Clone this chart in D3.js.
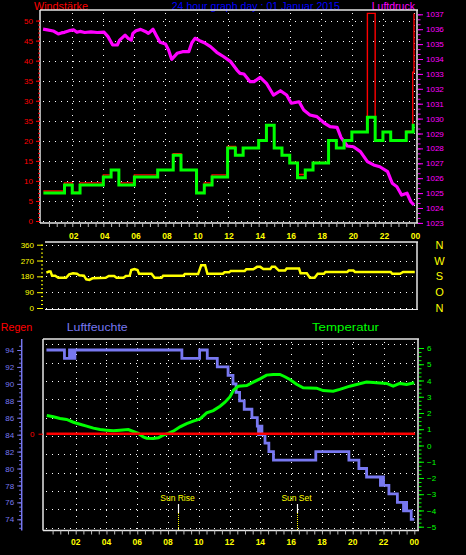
<!DOCTYPE html>
<html><head><meta charset="utf-8">
<script src="https://cdn.jsdelivr.net/npm/d3@7"></script>
<style>body{margin:0;background:#000;} svg{display:block;}</style>
</head><body>
<svg id="c" width="466" height="555"></svg>
<script>
// ---------- DATA ----------
const hourTickValues = [2,4,6,8,10,12,14,16,18,20,22,24];
const hourTickLabels = ["02","04","06","08","10","12","14","16","18","20","22","00"];

const windTickValues = [0,5,10,15,20,25,30,35,40,45,50];
const windTickLabels = ["0","5","10","15","20","35","30","35","40","45","50"];
const pressTickValues = [1023,1024,1025,1026,1027,1028,1029,1030,1031,1032,1033,1034,1035,1036,1037];
const dirTickValues = [0,90,180,270,360];
const dirLetters = ["N","O","S","W","N"];
const humTickValues = [74,76,78,80,82,84,86,88,90,92,94];
const tempTickValues = [-5,-4,-3,-2,-1,0,1,2,3,4,5,6];
const rainTickValues = [0];

// wind gusts (green, step) km/h
const gustHours = [0.14,1.5,2.0,2.5,4.0,4.5,5.0,6.0,7.5,8.5,9.0,10.0,10.5,11.0,12.0,12.5,13.0,14.0,14.5,15.0,15.5,16.0,16.5,17.0,17.5,18.5,19.0,19.5,20.0,21.0,21.5,22.0,22.5,23.5,23.95,24.05];
const gustValues = [7,9,7,9,11,12.7,9,11,12.7,16.4,12.7,7,9,11,18.2,16.4,18.2,20.1,23.9,18.2,16.4,14.5,10.8,12.7,14.5,20.1,18.2,20.1,22.2,25.9,20.1,22.2,20.1,22.2,23.9,23.9];
// wind speed (red, step)
const meanHours = [0.14,1.5,2.0,2.5,4.0,4.5,5.0,6.0,7.5,8.5,9.0,10.0,10.5,11.0,12.0,12.5,13.0,14.0,14.5,15.0,15.5,16.0,16.5,17.0,17.5,18.5,19.0,19.5,20.0,21.0,21.5,22.0,22.5,23.5,23.92,24.0];
const meanValues = [7.5,9.5,7.2,9.5,11.5,12.8,9.5,11.5,12.8,16.8,12.8,7.1,9.5,11.5,18.6,16.5,18.3,20.2,24.0,18.3,16.5,14.6,11.6,12.8,14.6,20.2,18.3,20.2,22.3,51.8,20.2,22.3,20.3,22.4,37.1,51.8];

// pressure hPa
const pressHours = [0.12,0.4,0.77,1.1,1.3,1.5,1.8,2.1,2.3,2.5,2.8,3.2,3.6,4.05,4.3,4.6,4.9,5.05,5.4,5.6,5.8,5.9,6.1,6.4,6.7,6.9,7.2,7.4,7.65,8.0,8.2,8.4,8.75,9.1,9.5,9.7,9.9,10.2,10.5,10.9,11.3,11.75,12.2,12.6,12.8,13.05,13.45,13.7,14.1,14.5,14.95,15.4,15.8,16.1,16.6,16.9,17.3,17.75,18.2,18.6,19.05,19.3,19.7,20.1,20.55,21.0,21.4,21.8,22.3,22.6,22.9,23.2,23.55,23.8,24.0];
const pressValues = [1036.0,1035.95,1035.88,1035.68,1035.75,1035.79,1035.9,1035.95,1035.8,1035.85,1035.78,1035.82,1035.78,1035.8,1035.5,1034.94,1034.94,1035.27,1035.6,1035.39,1035.27,1035.72,1035.9,1035.99,1035.85,1035.72,1036.0,1035.6,1035.12,1035.0,1034.6,1033.98,1034.38,1034.49,1034.49,1035.09,1035.39,1035.23,1035.09,1034.83,1034.45,1034.15,1033.82,1033.26,1033.04,1032.99,1032.48,1032.48,1032.77,1032.37,1031.58,1031.87,1031.58,1031.03,1031.13,1030.58,1030.24,1030.13,1029.72,1029.46,1029.41,1028.74,1028.16,1028.11,1027.78,1027.11,1026.89,1026.77,1026.44,1025.66,1025.43,1024.87,1024.99,1024.42,1024.2];

// wind direction degrees
const dirHours = [0.33,0.5,0.6,0.7,0.9,1.1,1.6,1.8,2.05,2.3,2.45,2.75,2.9,3.1,3.3,4.15,4.35,4.7,4.85,5.3,5.45,5.7,5.8,6.0,6.2,6.3,7.1,7.3,7.75,7.85,9.15,9.25,10.1,10.3,10.55,10.7,11.7,11.8,12.1,12.2,13.1,13.2,13.65,13.9,14.1,14.3,14.75,14.85,15.05,15.3,15.7,15.8,16.6,16.7,17.1,17.3,17.6,17.8,18.2,18.3,19.7,19.8,20.1,20.2,22.5,22.6,23.1,23.3,24.05];
const dirValues = [201,207,207,184,184,172,172,191,197,195,186,184,163,160,169,172,182,182,172,172,182,184,216,222,216,195,195,172,172,184,184,193,193,243,243,195,195,203,203,211,211,220,220,234,234,222,222,234,234,213,213,224,224,197,197,172,172,195,195,205,205,213,213,205,205,195,195,205,205];

// humidity % (step)
const humHours = [0.1,1.27,1.6,1.66,1.72,1.78,1.84,1.9,1.95,8.9,10.05,10.55,11.2,11.9,12.22,12.42,12.65,12.95,13.45,13.8,13.88,13.93,13.98,14.03,14.1,14.3,14.55,14.85,17.6,19.75,20.4,20.9,21.8,21.85,21.9,21.95,22.0,22.35,22.9,23.3,23.35,23.4,23.45,23.5,23.8,24.0];
const humValues = [94,93,94,93,94,93,94,93,94,93,94,93,92,91,90,89,88,87,86,85,84,85,84,85,84,83,82,81,82,81,80,79,78,79,78,79,78,77,76,75,76,75,76,75,74,74];

// temperature °C
const tempHours = [0.12,0.55,0.98,1.41,1.85,2.28,2.71,3.15,3.58,4.01,4.45,4.88,5.42,5.74,6.07,6.39,6.61,7.04,7.37,7.69,8.02,8.34,8.78,9.21,9.64,10.08,10.51,10.94,11.38,11.7,12.03,12.25,12.57,13.11,13.54,13.97,14.4,14.84,15.27,15.59,15.92,16.35,16.78,17.65,18.08,18.73,19.16,19.81,20.25,20.9,21.55,22.2,22.63,23.06,23.5,24.0];
const tempValues = [1.85,1.77,1.66,1.6,1.43,1.31,1.19,1.07,0.98,0.94,0.9,0.94,0.98,0.86,0.74,0.53,0.45,0.43,0.47,0.64,0.74,0.88,1.15,1.35,1.5,1.64,2.01,2.15,2.42,2.66,3.0,3.4,3.65,3.69,3.9,4.1,4.33,4.37,4.37,4.23,4.06,3.77,3.55,3.53,3.38,3.34,3.45,3.65,3.75,3.9,3.86,3.82,3.65,3.82,3.75,3.86];

// rain mm
const rainHours = [0.1,24.05];
const rainValues = [0,0];

const sunHours = [8.63,16.38];
const sunLabels = ["Sun Rise","Sun Set"];

// ---------- DRAW ----------
const svg = d3.select("#c");
svg.append("rect").attr("width",466).attr("height",555).attr("fill","#000");
const FONT = "'Liberation Sans', Arial, sans-serif";
const BORDER = "#e6e6e6";

function hline(g,x1,x2,y,color,w,dash){const l=g.append("line").attr("x1",x1).attr("x2",x2).attr("y1",y).attr("y2",y).attr("stroke",color).attr("stroke-width",w);if(dash)l.attr("stroke-dasharray",dash);return l;}
function vline(g,x,y1,y2,color,w,dash){const l=g.append("line").attr("x1",x).attr("x2",x).attr("y1",y1).attr("y2",y2).attr("stroke",color).attr("stroke-width",w);if(dash)l.attr("stroke-dasharray",dash);return l;}
function styleAxis(g,color,size){
  g.select(".domain").remove();
  g.selectAll(".tick line").attr("stroke",color).attr("stroke-width",1);
  g.selectAll(".tick text").attr("fill",color).attr("font-family",FONT).attr("font-size",size);
}

// ===== TOP CHART =====
const T = {l:40, r:417, t:10, b:223};
const xTop = d3.scaleLinear().domain([0,24]).range([41.2,414]);
const yWind = d3.scaleLinear().domain([0,50]).range([221,20.6]);
const yPress = d3.scaleLinear().domain([1023,1037]).range([222.9,14.3]);

const gTop = svg.append("g");
// titles
gTop.append("text").attr("x",34).attr("y",9.5).attr("fill","#ff0000").attr("font-family",FONT).attr("font-size",10.5).attr("textLength",54).attr("lengthAdjust","spacingAndGlyphs").text("Windstärke");
gTop.append("text").attr("x",171.7).attr("y",9.5).attr("fill","#0000ff").attr("font-family",FONT).attr("font-size",10.5).attr("textLength",168.3).attr("lengthAdjust","spacingAndGlyphs").text("24 hour graph day : 01 Januar 2015");
gTop.append("text").attr("x",371.7).attr("y",9.5).attr("fill","#ff00ff").attr("font-family",FONT).attr("font-size",10.5).attr("textLength",43.3).attr("lengthAdjust","spacingAndGlyphs").text("Luftdruck");

// grid
windTickValues.forEach(v=>hline(gTop,T.l+3,T.r-2,Math.round(yWind(v))+0.5,"#fff",1,"1,5"));
hourTickValues.forEach(h=>vline(gTop,Math.round(xTop(h))+0.5,T.t+3,T.b-1,"#fff",1,"1,5"));

// clip
svg.append("clipPath").attr("id","clipTop").append("rect").attr("x",T.l).attr("y",T.t+1).attr("width",T.r-T.l).attr("height",T.b-T.t-1);
const gTopData = gTop.append("g").attr("clip-path","url(#clipTop)");

gTopData.append("path").datum(pressHours.map((h,i)=>[h,pressValues[i]]))
  .attr("d",d3.line().x(d=>xTop(d[0])).y(d=>yPress(d[1])))
  .attr("fill","none").attr("stroke","#ff00ff").attr("stroke-width",3.2).attr("stroke-linejoin","round");
gTopData.append("path").datum(meanHours.map((h,i)=>[h,meanValues[i]]))
  .attr("d",d3.line().curve(d3.curveStepAfter).x(d=>xTop(d[0])).y(d=>yWind(d[1])))
  .attr("fill","none").attr("stroke","#ff0000").attr("stroke-width",1.4);
gTopData.append("path").datum(gustHours.map((h,i)=>[h,gustValues[i]]))
  .attr("d",d3.line().curve(d3.curveStepAfter).x(d=>xTop(d[0])).y(d=>yWind(d[1])))
  .attr("fill","none").attr("stroke","#00ff00").attr("stroke-width",3);

// borders
hline(gTop,T.l,T.r+1,T.t,BORDER,1.5);
hline(gTop,T.l,T.r+1,T.b,BORDER,1.5);
vline(gTop,T.l,T.t,T.b,BORDER,1.5);
vline(gTop,T.r,T.t,T.b,BORDER,1.5);

// left wind axis
const aw = gTop.append("g").attr("transform",`translate(${T.l},0)`)
  .call(d3.axisLeft(yWind).tickValues(windTickValues).tickFormat((d,i)=>windTickLabels[i]).tickSize(4).tickPadding(3));
styleAxis(aw,"#ff0000",8);
const awm = gTop.append("g").attr("transform",`translate(${T.l},0)`)
  .call(d3.axisLeft(yWind).tickValues(d3.range(0,51,1)).tickFormat("").tickSize(2));
styleAxis(awm,"#ff0000",8);

// right pressure axis
const ap = gTop.append("g").attr("transform",`translate(${T.r+1},0)`)
  .call(d3.axisRight(yPress).tickValues(pressTickValues).tickFormat(d3.format("d")).tickSize(5).tickPadding(3));
styleAxis(ap,"#ff00ff",8);
const apm = gTop.append("g").attr("transform",`translate(${T.r+1},0)`)
  .call(d3.axisRight(yPress).tickValues(d3.range(0,43).map(i=>1023+i/3)).tickFormat("").tickSize(2.5));
styleAxis(apm,"#ff00ff",8);

// bottom x ticks
const axt = gTop.append("g").attr("transform",`translate(0,${T.b})`)
  .call(d3.axisBottom(xTop).tickValues(d3.range(1,49).map(i=>i/2)).tickFormat("").tickSize(4));
styleAxis(axt,"#bbbbbb",8);
// hour labels (yellow) between top and middle chart
gTop.selectAll(".hl").data(hourTickValues).enter().append("text")
  .attr("x",d=>xTop(d)+1.5).attr("y",238.5).attr("text-anchor","middle")
  .attr("fill","#ffff00").attr("font-family",FONT).attr("font-size",8.5).attr("font-weight","bold")
  .text((d,i)=>hourTickLabels[i]);

// ===== MIDDLE CHART =====
const M = {l:43, r:417, t:242, b:309.5};
const yDir = d3.scaleLinear().domain([0,360]).range([308,244.7]);
const gMid = svg.append("g");
dirTickValues.forEach(v=>hline(gMid,M.l+3,M.r-2,Math.round(yDir(v))+0.5,"#fff",1,"1,5"));
gMid.append("path").datum(dirHours.map((h,i)=>[h,dirValues[i]]))
  .attr("d",d3.line().x(d=>xTop(d[0])).y(d=>yDir(d[1])))
  .attr("fill","none").attr("stroke","#ffff00").attr("stroke-width",2.5);
hline(gMid,M.l+2,M.r+1,M.t,BORDER,1.5);
hline(gMid,M.l+2,M.r+1,M.b,BORDER,1.2);
vline(gMid,M.r,M.t,M.b,BORDER,1.5);
const ad = gMid.append("g").attr("transform",`translate(${M.l},0)`)
  .call(d3.axisLeft(yDir).tickValues(dirTickValues).tickSize(6).tickPadding(3));
styleAxis(ad,"#ffff00",8);
const adm = gMid.append("g").attr("transform",`translate(${M.l},0)`)
  .call(d3.axisLeft(yDir).tickValues(d3.range(0,17).map(i=>i*22.5)).tickFormat("").tickSize(2));
styleAxis(adm,"#ffff00",8);
gMid.selectAll(".dl").data(dirTickValues).enter().append("text")
  .attr("x",439.5).attr("y",d=>yDir(d)+4).attr("text-anchor","middle")
  .attr("fill","#ffff00").attr("font-family",FONT).attr("font-size",11)
  .text((d,i)=>dirLetters[i]);

// ===== BOTTOM CHART =====
const B = {l:43, r:418, t:339, b:530.5};
const xBot = d3.scaleLinear().domain([0,24]).range([44.9,414.3]);
const yHum = d3.scaleLinear().domain([74,94]).range([519.3,350]);
const yTemp = d3.scaleLinear().domain([-5,6]).range([526.7,348]);
const yRain = d3.scaleLinear().domain([0,10]).range([433.7,339]);
const yGrid = d3.scaleLinear().domain([0,10]).range([527.7,344.3]);
const gBot = svg.append("g");

gBot.append("text").attr("x",0.7).attr("y",331).attr("fill","#ff0000").attr("font-family",FONT).attr("font-size",11.5).attr("textLength",31.6).attr("lengthAdjust","spacingAndGlyphs").text("Regen");
gBot.append("text").attr("x",66.7).attr("y",331).attr("fill","#7878f0").attr("font-family",FONT).attr("font-size",11.5).attr("textLength",61).attr("lengthAdjust","spacingAndGlyphs").text("Luftfeuchte");
gBot.append("text").attr("x",312).attr("y",331).attr("fill","#00ff00").attr("font-family",FONT).attr("font-size",11.5).attr("textLength",67).attr("lengthAdjust","spacingAndGlyphs").text("Temperatur");

d3.range(0,11).forEach(i=>hline(gBot,B.l+3,B.r-2,Math.round(yGrid(i))+0.5,"#fff",1,"1,5"));
hourTickValues.forEach(h=>vline(gBot,Math.round(xBot(h))+0.5,B.t+3,B.b-1,"#fff",1,"1,5"));

// sun rise / set
sunHours.forEach((h,i)=>{
  const x = Math.round(xBot(h))+0.5;
  vline(gBot,x,504,513,"#ffffff",1.2);
  vline(gBot,x,513,B.b,"#ffff00",1,"1,1");
  gBot.append("text").attr("x",x-1).attr("y",500.5).attr("text-anchor","middle")
    .attr("fill","#ffff00").attr("font-family",FONT).attr("font-size",8.5).text(sunLabels[i]);
});

svg.append("clipPath").attr("id","clipBot").append("rect").attr("x",B.l).attr("y",B.t+1).attr("width",B.r-B.l).attr("height",B.b-B.t-1);
const gBotData = gBot.append("g").attr("clip-path","url(#clipBot)");
gBotData.append("path").datum(humHours.map((h,i)=>[h,humValues[i]]))
  .attr("d",d3.line().curve(d3.curveStepAfter).x(d=>xBot(d[0])).y(d=>yHum(d[1])))
  .attr("fill","none").attr("stroke","#7878f0").attr("stroke-width",2.8);
gBotData.append("path").datum(tempHours.map((h,i)=>[h,tempValues[i]]))
  .attr("d",d3.line().x(d=>xBot(d[0])).y(d=>yTemp(d[1])))
  .attr("fill","none").attr("stroke","#00ff00").attr("stroke-width",3);
gBotData.append("path").datum(rainHours.map((h,i)=>[h,rainValues[i]]))
  .attr("d",d3.line().x(d=>xBot(d[0])).y(d=>yRain(d[1])))
  .attr("fill","none").attr("stroke","#ff0000").attr("stroke-width",2.5);

hline(gBot,B.l,B.r+1,B.t,BORDER,1.5);
hline(gBot,B.l,B.r+1,B.b,BORDER,1.5);
vline(gBot,B.l,B.t,B.b,BORDER,1.5);
vline(gBot,B.r,B.t,B.b,BORDER,1.5);

// humidity axis (left, separate line)
const HX = 21.7;
vline(gBot,HX,B.t,B.b,"#7878f0",1.5);
const ah = gBot.append("g").attr("transform",`translate(${HX},0)`)
  .call(d3.axisLeft(yHum).tickValues(humTickValues).tickSize(4.5).tickPadding(3));
styleAxis(ah,"#7878f0",8);
const ahm = gBot.append("g").attr("transform",`translate(${HX},0)`)
  .call(d3.axisLeft(yHum).tickValues(d3.range(0,44).map(i=>73+i/2)).tickFormat("").tickSize(2.5));
styleAxis(ahm,"#7878f0",8);

// rain axis
const ar = gBot.append("g").attr("transform",`translate(${B.l},0)`)
  .call(d3.axisLeft(yRain).tickValues(rainTickValues).tickSize(4.5).tickPadding(4));
styleAxis(ar,"#ff0000",8);

// temperature axis (right)
const at = gBot.append("g").attr("transform",`translate(${B.r+1},0)`)
  .call(d3.axisRight(yTemp).tickValues(tempTickValues).tickSize(5).tickPadding(3));
styleAxis(at,"#00ff00",8);
const atm = gBot.append("g").attr("transform",`translate(${B.r+1},0)`)
  .call(d3.axisRight(yTemp).tickValues(d3.range(0,45).map(i=>-5+i/4)).tickFormat("").tickSize(2.5));
styleAxis(atm,"#00ff00",8);

// bottom x axis
const axb = gBot.append("g").attr("transform",`translate(0,${B.b})`)
  .call(d3.axisBottom(xBot).tickValues(d3.range(1,49).map(i=>i/2)).tickFormat("").tickSize(4));
styleAxis(axb,"#bbbbbb",8);
gBot.selectAll(".bl").data(hourTickValues).enter().append("text")
  .attr("x",d=>xBot(d)).attr("y",544.5).attr("text-anchor","middle")
  .attr("fill","#ffff00").attr("font-family",FONT).attr("font-size",8.5).attr("font-weight","bold")
  .text((d,i)=>hourTickLabels[i]);
</script></body></html>
